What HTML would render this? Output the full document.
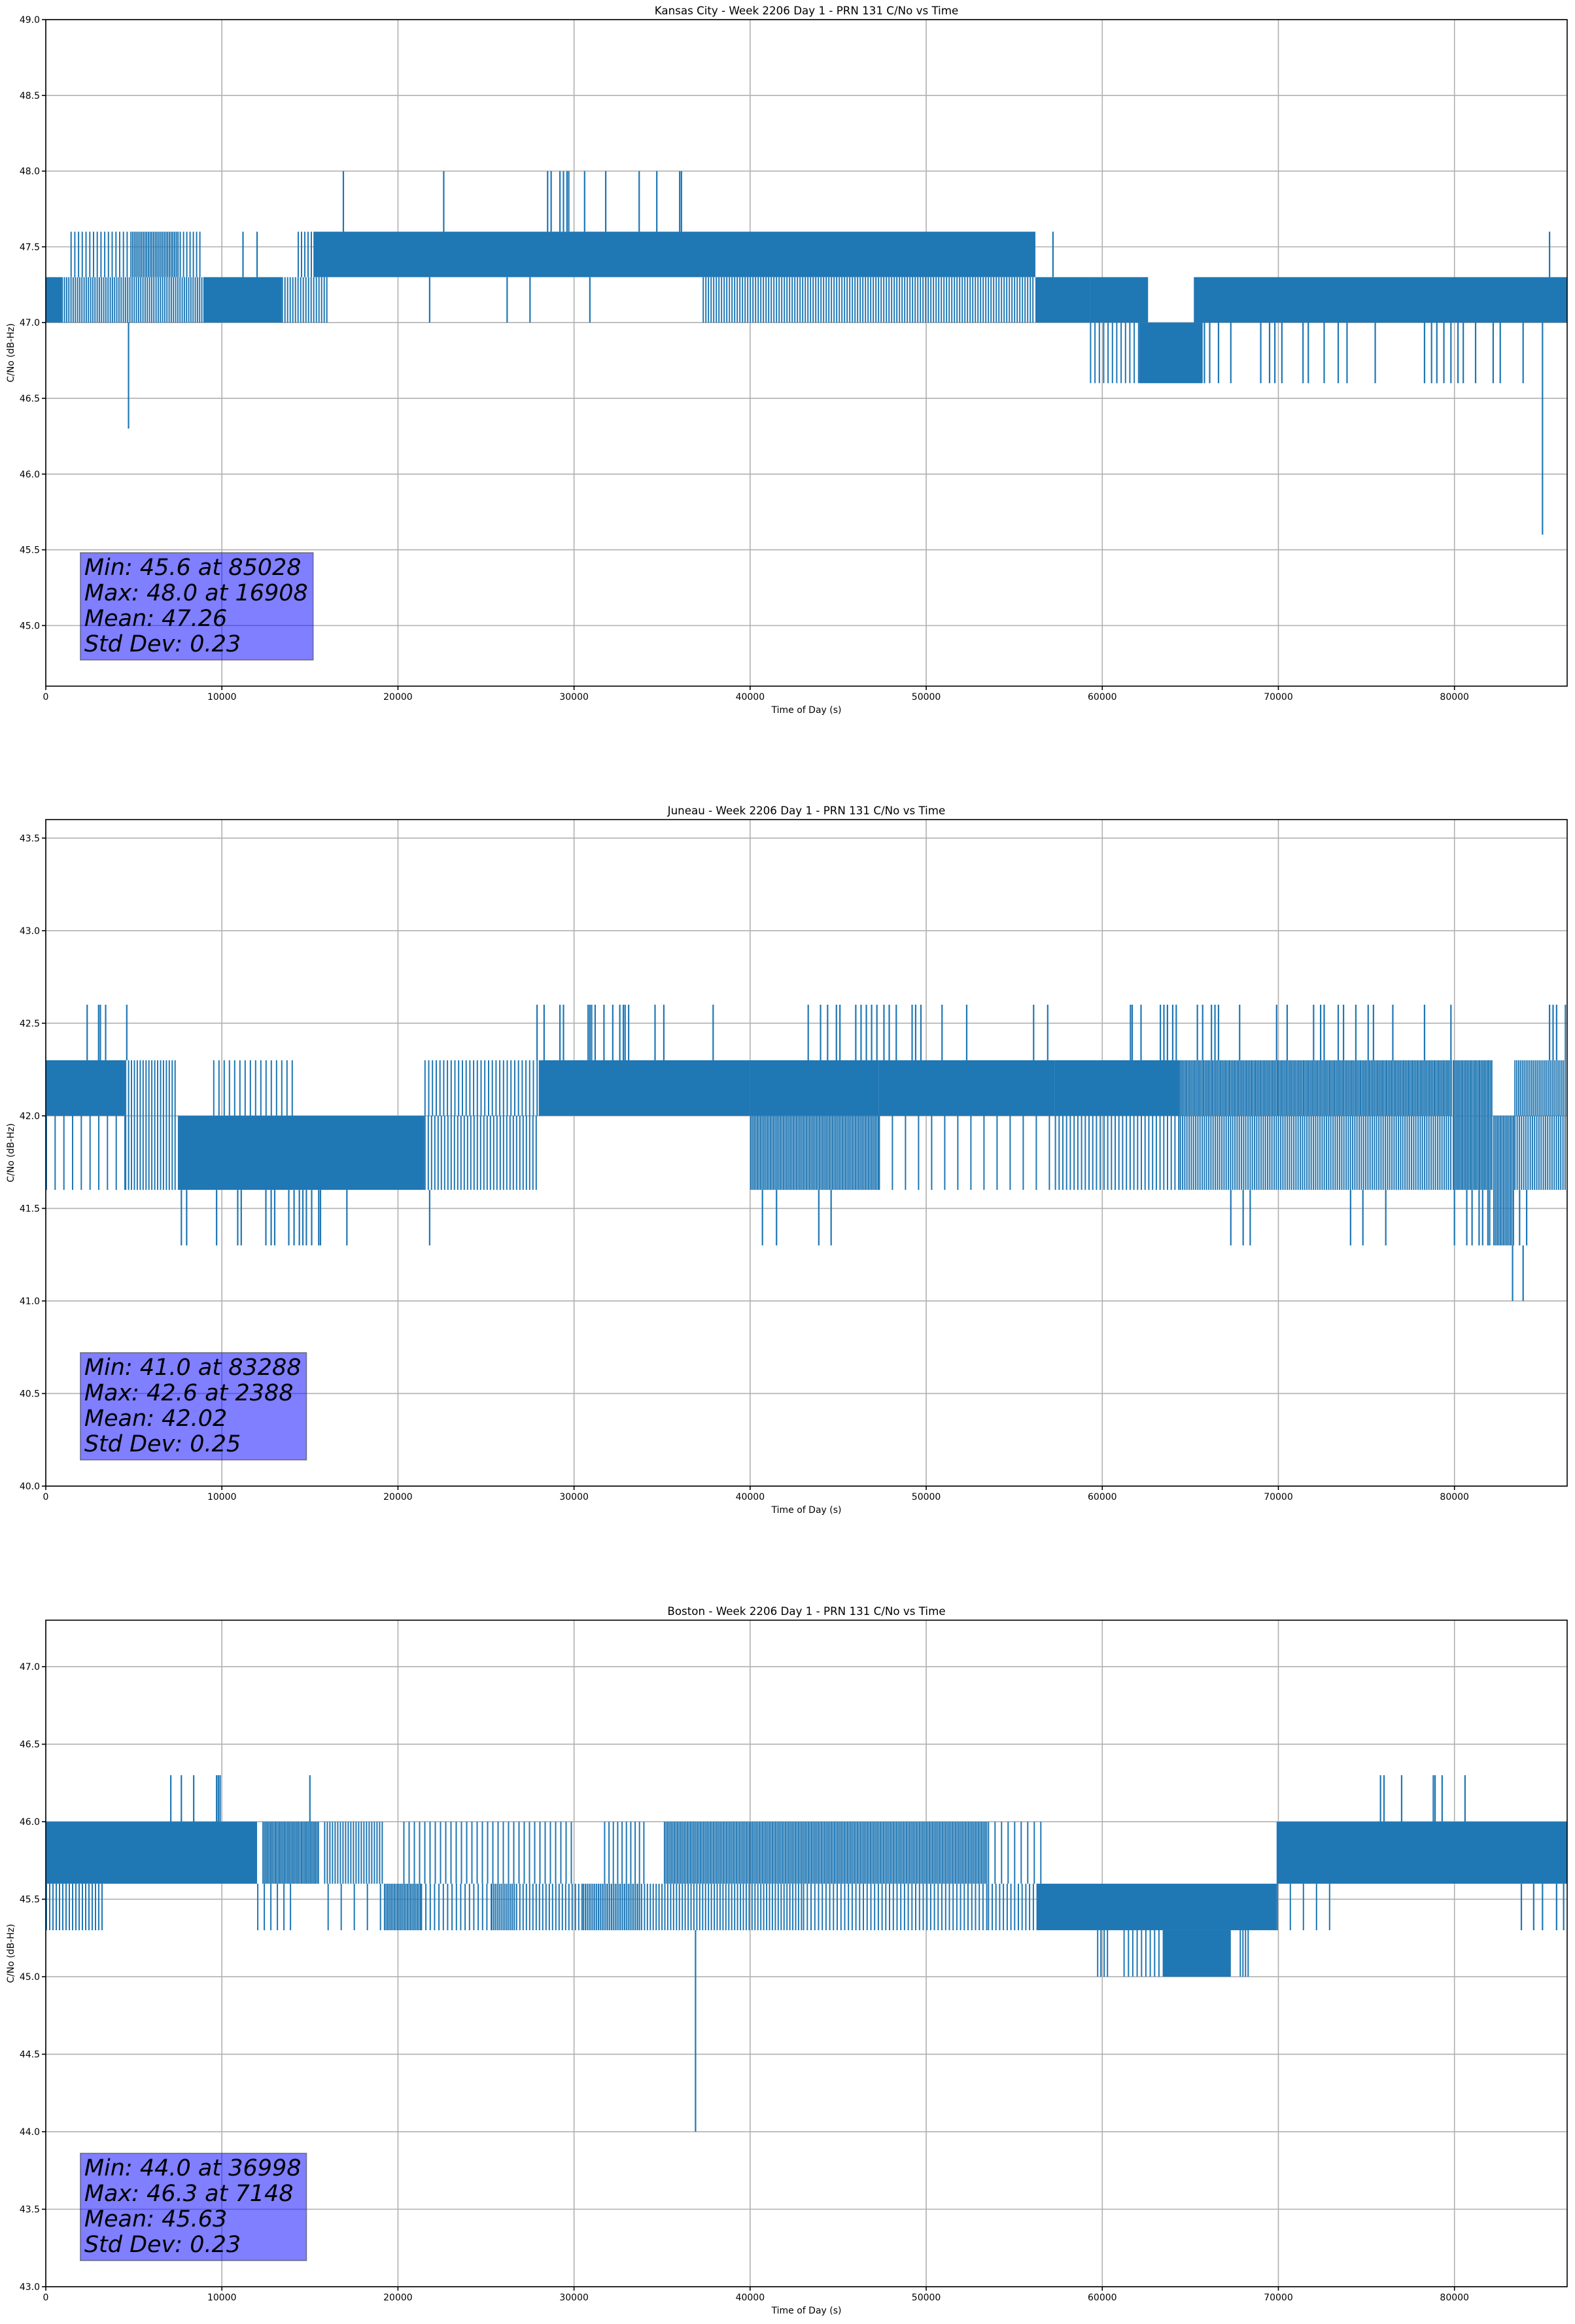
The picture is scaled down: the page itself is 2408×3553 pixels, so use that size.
<!DOCTYPE html>
<html><head><meta charset="utf-8"><style>
body{margin:0;background:#fff}
svg text{font-family:"DejaVu Sans","Liberation Sans",sans-serif;fill:#000}
</style></head><body>
<svg id="fig" width="2408" height="3548" xmlns="http://www.w3.org/2000/svg"></svg>
<script>
// ---- Chart data (time in seconds, C/No in dB-Hz) ----
const titles = ["Kansas City - Week 2206 Day 1 - PRN 131 C/No vs Time","Juneau - Week 2206 Day 1 - PRN 131 C/No vs Time","Boston - Week 2206 Day 1 - PRN 131 C/No vs Time"];
const yMin = [44.6, 40.0, 43.0];
const yMax = [49.0, 43.6, 47.3];
const yTicks0 = [45.0,45.5,46.0,46.5,47.0,47.5,48.0,48.5,49.0];
const yTicks1 = [40.0,40.5,41.0,41.5,42.0,42.5,43.0,43.5];
const yTicks2 = [43.0,43.5,44.0,44.5,45.0,45.5,46.0,46.5,47.0];
const xTicks = [0,10000,20000,30000,40000,50000,60000,70000,80000];
const statLines0 = ["Min: 45.6 at 85028","Max: 48.0 at 16908","Mean: 47.26","Std Dev: 0.23"];
const statLines1 = ["Min: 41.0 at 83288","Max: 42.6 at 2388","Mean: 42.02","Std Dev: 0.25"];
const statLines2 = ["Min: 44.0 at 36998","Max: 46.3 at 7148","Mean: 45.63","Std Dev: 0.23"];

// Kansas City bands
const segStart0 = [0,900,9000,13400,1400,4800,7600,14300,15200,37300,56200,59300,59300,62100,65200];
const segEnd0   = [900,9000,13400,16100,4800,7600,8800,15200,56200,56200,59300,62600,62100,65700,86400];
const segLo0    = [47.0,47.0,47.0,47.0,47.3,47.3,47.3,47.3,47.3,47.0,47.0,47.0,46.6,46.6,47.0];
const segHi0    = [47.3,47.3,47.3,47.3,47.6,47.6,47.6,47.6,47.6,47.3,47.3,47.3,47.0,47.0,47.3];
const segDen0   = [1,0.6,1,0.5,0.35,0.75,0.4,0.4,0.95,0.5,1,0.9,0.3,1,0.95];
const spikeT0   = [21800,26200,27500,30900,16900,22600,28500,28700,29200,29400,29600,29700,30600,31800,33700,34700,36000,36100,11200,12000,57200,85400,4700,65800,66100,66600,67300,69000,69500,69800,70200,71400,71700,72600,73400,73900,75500,78300,78700,79000,79400,79800,80200,80500,81200,82200,82600,83900,85000];
const spikeA0   = [47.3,47.3,47.3,47.3,47.6,47.6,47.6,47.6,47.6,47.6,47.6,47.6,47.6,47.6,47.6,47.6,47.6,47.6,47.3,47.3,47.3,47.3,47.0,47.0,47.0,47.0,47.0,47.0,47.0,47.0,47.0,47.0,47.0,47.0,47.0,47.0,47.0,47.0,47.0,47.0,47.0,47.0,47.0,47.0,47.0,47.0,47.0,47.0,47.0];
const spikeB0   = [47.0,47.0,47.0,47.0,48.0,48.0,48.0,48.0,48.0,48.0,48.0,48.0,48.0,48.0,48.0,48.0,48.0,48.0,47.6,47.6,47.6,47.6,46.3,46.6,46.6,46.6,46.6,46.6,46.6,46.6,46.6,46.6,46.6,46.6,46.6,46.6,46.6,46.6,46.6,46.6,46.6,46.6,46.6,46.6,46.6,46.6,46.6,46.6,45.6];

// Juneau bands
const segStart1 = [0,0,4500,4500,7500,9500,21500,21500,28000,40000,40000,47300,47300,57300,57300,64400,64400,79900,79900,82200,83400,83400];
const segEnd1   = [4500,4500,7500,7500,21500,14000,28000,28000,40000,47300,47300,57300,57300,64400,64400,79900,79900,82200,82200,83400,86400,86400];
const segLo1    = [42.0,41.6,42.0,41.6,41.6,42.0,41.6,42.0,42.0,41.6,42.0,42.0,41.6,42.0,41.6,42.0,41.6,42.0,41.6,41.3,42.0,41.6];
const segHi1    = [42.3,42.0,42.3,42.0,42.0,42.3,42.0,42.3,42.3,42.0,42.3,42.3,42.0,42.3,42.0,42.3,42.0,42.3,42.0,42.0,42.3,42.0];
const segDen1   = [0.95,0.15,0.45,0.45,0.9,0.25,0.4,0.35,0.95,0.8,0.9,0.95,0.1,0.9,0.35,0.85,0.6,0.85,0.85,0.8,0.7,0.6];
const spikeT1   = [2350,3000,3100,3400,4600,27900,28300,29200,29400,30800,30900,31000,31200,31700,32200,32600,32800,32900,33100,34600,35100,37900,43300,44000,44400,44900,45100,46000,46300,46600,46900,47200,47600,47900,48300,49200,49400,49700,50900,52300,56100,56900,61600,61700,62200,63300,63500,63700,64000,64200,65400,65700,66200,66400,66600,67800,69900,70500,72000,72400,72600,73400,73700,74400,75100,75400,76500,78300,79800,85400,85600,85800,86300,
  7700,8000,9700,10900,11100,12500,12800,13000,13800,14100,14400,14600,14800,15100,15500,15600,17100,21800,40700,41500,43900,44600,67300,68000,68400,74100,74800,76100,80000,80700,81000,81400,81600,81900,82000,83700,84100,83300,83900];
const spikeA1   = [42.3,42.3,42.3,42.3,42.3,42.3,42.3,42.3,42.3,42.3,42.3,42.3,42.3,42.3,42.3,42.3,42.3,42.3,42.3,42.3,42.3,42.3,42.3,42.3,42.3,42.3,42.3,42.3,42.3,42.3,42.3,42.3,42.3,42.3,42.3,42.3,42.3,42.3,42.3,42.3,42.3,42.3,42.3,42.3,42.3,42.3,42.3,42.3,42.3,42.3,42.3,42.3,42.3,42.3,42.3,42.3,42.3,42.3,42.3,42.3,42.3,42.3,42.3,42.3,42.3,42.3,42.3,42.3,42.3,42.3,42.3,42.3,42.3,
  41.6,41.6,41.6,41.6,41.6,41.6,41.6,41.6,41.6,41.6,41.6,41.6,41.6,41.6,41.6,41.6,41.6,41.6,41.6,41.6,41.6,41.6,41.6,41.6,41.6,41.6,41.6,41.6,41.6,41.6,41.6,41.6,41.6,41.6,41.6,41.6,41.6,41.3,41.3];
const spikeB1   = [42.6,42.6,42.6,42.6,42.6,42.6,42.6,42.6,42.6,42.6,42.6,42.6,42.6,42.6,42.6,42.6,42.6,42.6,42.6,42.6,42.6,42.6,42.6,42.6,42.6,42.6,42.6,42.6,42.6,42.6,42.6,42.6,42.6,42.6,42.6,42.6,42.6,42.6,42.6,42.6,42.6,42.6,42.6,42.6,42.6,42.6,42.6,42.6,42.6,42.6,42.6,42.6,42.6,42.6,42.6,42.6,42.6,42.6,42.6,42.6,42.6,42.6,42.6,42.6,42.6,42.6,42.6,42.6,42.6,42.6,42.6,42.6,42.6,
  41.3,41.3,41.3,41.3,41.3,41.3,41.3,41.3,41.3,41.3,41.3,41.3,41.3,41.3,41.3,41.3,41.3,41.3,41.3,41.3,41.3,41.3,41.3,41.3,41.3,41.3,41.3,41.3,41.3,41.3,41.3,41.3,41.3,41.3,41.3,41.3,41.3,41.0,41.0];

// Boston bands
const segStart2 = [0,12300,15800,20300,31700,35100,53500,69900,0,12000,16000,19200,21300,25300,26700,30500,33800,43000,53500,56300,69900,59700,61200,63500,67800];
const segEnd2   = [12000,15500,19200,30000,34200,53500,56600,86400,3200,14000,19200,21300,25300,26700,30500,33800,43000,53500,56300,69900,73000,60400,63500,67300,68300];
const segLo2    = [45.6,45.6,45.6,45.6,45.6,45.6,45.6,45.6,45.3,45.3,45.3,45.3,45.3,45.3,45.3,45.3,45.3,45.3,45.3,45.3,45.3,45.0,45.0,45.0,45.0];
const segHi2    = [46.0,46.0,46.0,46.0,46.0,46.0,46.0,46.0,45.6,45.6,45.6,45.6,45.6,45.6,45.6,45.6,45.6,45.6,45.6,45.6,45.6,45.3,45.3,45.3,45.3];
const segDen2   = [0.9,0.85,0.5,0.25,0.3,0.8,0.2,0.97,0.4,0.2,0.1,0.8,0.3,0.7,0.4,0.7,0.45,0.35,0.35,0.95,0.1,0.4,0.3,0.95,0.5];
const spikeT2   = [7100,7700,8400,9700,9800,9900,15000,75800,76000,77000,78800,78900,79300,80600,83800,84500,85000,85800,86200,36900];
const spikeA2   = [46.0,46.0,46.0,46.0,46.0,46.0,46.0,46.0,46.0,46.0,46.0,46.0,46.0,46.0,45.6,45.6,45.6,45.6,45.6,45.3];
const spikeB2   = [46.3,46.3,46.3,46.3,46.3,46.3,46.3,46.3,46.3,46.3,46.3,46.3,46.3,46.3,45.3,45.3,45.3,45.3,45.3,44.0];

const NS="http://www.w3.org/2000/svg";
const fig=document.getElementById('fig');
function mk(tag,attrs,parent){const e=document.createElementNS(NS,tag);for(const k in attrs)e.setAttribute(k,attrs[k]);(parent||fig).appendChild(e);return e;}

const X0=70,X1=2396,XMAX=86400,H=1019;
const tops=[30,1253,2477];
const allYTicks=[yTicks0,yTicks1,yTicks2];
const allStats=[statLines0,statLines1,statLines2];
const segs=[[segStart0,segEnd0,segLo0,segHi0,segDen0],[segStart1,segEnd1,segLo1,segHi1,segDen1],[segStart2,segEnd2,segLo2,segHi2,segDen2]];
const spikes=[[spikeT0,spikeA0,spikeB0],[spikeT1,spikeA1,spikeB1],[spikeT2,spikeA2,spikeB2]];
const BLUE="#1f77b4";

for(let c=0;c<3;c++){
  const T=tops[c],B=T+H;
  const xs=t=>X0+t/XMAX*(X1-X0);
  const ys=v=>B-(v-yMin[c])/(yMax[c]-yMin[c])*H;
  const g=mk('g',{});
  
  
  xTicks.forEach(t=>{const l=mk('line',{x1:xs(t),x2:xs(t),y1:T,y2:B,stroke:'#b0b0b0','stroke-width':1.6},g);
    });
  allYTicks[c].forEach(v=>{const l=mk('line',{x1:X0,x2:X1,y1:ys(v),y2:ys(v),stroke:'#b0b0b0','stroke-width':1.6},g);
    });
  const sg=mk('g',{fill:BLUE,stroke:BLUE},g);
  
  
  const [s0,s1,lo,hi,den]=segs[c];
  for(let i=0;i<s0.length;i++){
    const xa=xs(s0[i]),xb=xs(s1[i]),ya=ys(hi[i]),yb=ys(lo[i]);
    if(den[i]>=0.9){
      const r=mk('rect',{x:xa,y:ya,width:Math.max(1,xb-xa),height:yb-ya,stroke:'none'},sg);
      
    }else{
      const step=2/den[i];
      let d='';
      for(let x=xa+1;x<xb;x+=step){d+='M'+x.toFixed(1)+' '+ya.toFixed(1)+'V'+yb.toFixed(1);}
      const p=mk('path',{d:d,fill:'none','stroke-width':2},sg);
      
    }
  }
  const [st,sa,sb]=spikes[c];
  for(let i=0;i<st.length;i++){
    const l=mk('line',{x1:xs(st[i]),x2:xs(st[i]),y1:ys(sa[i]),y2:ys(sb[i]),'stroke-width':2.2},sg);
    
  }
  const fr=mk('rect',{x:X0,y:T,width:X1-X0,height:H,fill:'none',stroke:'#000','stroke-width':1.6},g);
  
  xTicks.forEach(t=>{mk('line',{x1:xs(t),x2:xs(t),y1:B,y2:B+6,stroke:'#000','stroke-width':1.6},g);
    const tx=mk('text',{x:xs(t),y:B+21,'font-size':14,'text-anchor':'middle'},g);tx.textContent=String(t);
    });
  allYTicks[c].forEach(v=>{mk('line',{x1:X0-6,x2:X0,y1:ys(v),y2:ys(v),stroke:'#000','stroke-width':1.6},g);
    const tx=mk('text',{x:X0-9,y:ys(v)+5,'font-size':14,'text-anchor':'end'},g);tx.textContent=v.toFixed(1);
    });
  const ti=mk('text',{x:(X0+X1)/2,y:T-8,'font-size':16.7,'text-anchor':'middle'},g);ti.textContent=titles[c];
  
  const xl=mk('text',{x:(X0+X1)/2,y:B+41,'font-size':14,'text-anchor':'middle'},g);xl.textContent='Time of Day (s)';
  
  const yl=mk('text',{x:0,y:0,'font-size':14,'text-anchor':'middle',transform:'translate(21,'+((T+B)/2)+') rotate(-90)'},g);yl.textContent='C/No (dB-Hz)';
  
  const bg=mk('g',{},g);
  
  const rect=mk('rect',{x:xs(2000)-1,y:0,width:10,height:10,fill:'rgba(0,0,255,0.5)',stroke:'rgba(60,60,60,0.6)','stroke-width':1.5},bg);
  const lines=allStats[c];const lastBase=B-53;const lh=39;
  let maxW=0;
  lines.forEach((s,i)=>{const tx=mk('text',{x:xs(2000)+5,y:lastBase-(lines.length-1-i)*lh,'font-size':35,'font-style':'italic'},bg);tx.textContent=s;
    
    maxW=Math.max(maxW,tx.getComputedTextLength());});
  const topY=lastBase-(lines.length-1)*lh-34;
  rect.setAttribute('y',topY);rect.setAttribute('height',lastBase+13-topY);
  rect.setAttribute('width',maxW+14);
}
</script>
</body></html>
